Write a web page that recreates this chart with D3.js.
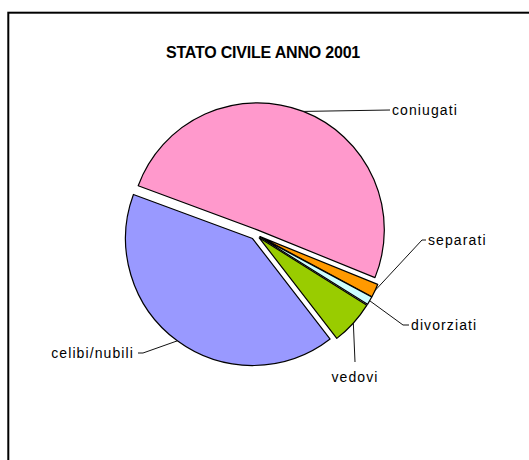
<!DOCTYPE html>
<html>
<head>
<meta charset="utf-8">
<script src="https://cdn.jsdelivr.net/npm/d3@7"></script>
<style>
    body { margin: 0; background: #fff; }
    div#container { width: 529px; height: 460px; }
</style>
</head>
<body>
<div id="container"></div>
<script>
// --- data (percent of population) ---
var categories = ["coniugati", "separati", "divorziati", "vedovi", "celibi/nubili"];
var values = [50.5, 1.7, 1.05, 5.65, 41.1];
var colors = ["#FF99CC", "#FF9900", "#CCFFFF", "#99CC00", "#9999FF"];
var title = "STATO CIVILE ANNO 2001";

var svgWidth = 529;
var svgHeight = 460;
var font = "Arial, 'Liberation Sans', sans-serif";

// pie geometry
var cx = 255.5, cy = 234.5;
var radius = 127;
var explode = 5;
var startDeg = 290.3;

// label placement relative to pie centre (elbow point, stub direction)
var labelLayout = {
    "coniugati":     { dx: 134.5, dy: -124.5, stub: 0,  anchor: "start" },
    "separati":      { dx: 166.5, dy: 5.5,    stub: 4,  anchor: "start" },
    "divorziati":    { dx: 147.5, dy: 90.5,   stub: 6,  anchor: "start" },
    "vedovi":        { dx: 99.5,  dy: 127.5,  stub: 0,  anchor: "middle" },
    "celibi/nubili": { dx: -112.5, dy: 118.5, stub: -5, anchor: "end" }
};

var data = categories.map(function (c, i) {
    return { name: c, value: values[i], color: colors[i] };
});

var svg = d3.select("div#container")
    .append("svg")
    .attr("width", svgWidth)
    .attr("height", svgHeight);

// --- frame (runs off the right/bottom edge) ---
svg.append("rect")
    .attr("x", 8.3)
    .attr("y", 12.7)
    .attr("width", 600)
    .attr("height", 600)
    .attr("fill", "none")
    .attr("stroke", "black")
    .attr("stroke-width", 2);

// --- title ---
svg.append("text")
    .attr("x", 263)
    .attr("y", 58)
    .attr("text-anchor", "middle")
    .style("font-family", font)
    .style("font-size", "16px")
    .style("font-weight", "bold")
    .style("letter-spacing", "-0.2px")
    .text(title);

// --- pie ---
var start = startDeg * Math.PI / 180;
var pie = d3.pie()
    .sort(null)
    .value(d => d.value)
    .startAngle(start)
    .endAngle(start + 2 * Math.PI);

var arc = d3.arc()
    .innerRadius(0)
    .outerRadius(radius);

var arcs = pie(data);

function midAngle(d) {
    return (d.startAngle + d.endAngle) / 2;
}
function offset(d) {
    var a = midAngle(d);
    return [explode * Math.sin(a), -explode * Math.cos(a)];
}

var g = svg.append("g")
    .attr("transform", "translate(" + cx + "," + cy + ")");

g.selectAll("path.slice")
    .data(arcs)
    .enter()
    .append("path")
    .attr("class", "slice")
    .attr("transform", d => "translate(" + offset(d)[0] + "," + offset(d)[1] + ")")
    .attr("d", arc)
    .attr("fill", d => d.data.color)
    .attr("stroke", "black")
    .attr("stroke-width", 1.2)
    .attr("stroke-linejoin", "round");

// --- leader lines + labels ---
arcs.forEach(function (d) {
    var lay = labelLayout[d.data.name];
    var a = midAngle(d);
    var o = offset(d);
    var x0 = o[0] + radius * Math.sin(a);
    var y0 = o[1] - radius * Math.cos(a);
    var x1 = lay.dx, y1 = lay.dy;
    var x2 = x1 + lay.stub;

    g.append("polyline")
        .attr("points", [[x0, y0], [x1, y1], [x2, y1]].map(p => p.join(",")).join(" "))
        .attr("fill", "none")
        .attr("stroke", "#111")
        .attr("stroke-width", 1);

    var tx, ty;
    if (lay.anchor === "middle") {
        tx = x1; ty = y1 + 15;
    } else if (lay.anchor === "end") {
        tx = x2 - 4; ty = y1;
    } else {
        tx = x2 + 2; ty = y1;
    }

    g.append("text")
        .attr("x", tx)
        .attr("y", ty)
        .attr("dy", "0.35em")
        .attr("text-anchor", lay.anchor)
        .style("font-family", font)
        .style("font-size", "14px")
        .style("letter-spacing", "1.1px")
        .text(d.data.name);
});
</script>
</body>
</html>
